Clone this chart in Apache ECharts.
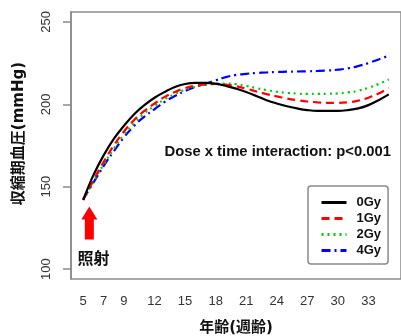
<!DOCTYPE html>
<html>
<head>
<meta charset="utf-8">
<script src="https://cdn.jsdelivr.net/npm/echarts@6/dist/echarts.min.js"></script>
<style>
  html, body { margin: 0; padding: 0; background: #fff; }
  #chart { width: 401px; height: 336px; }
</style>
</head>
<body>
<div id="chart"></div>
<script>
// 週齢
var weeks = [5,6,7,8,9,10,11,12,13,14,15,16,17,18,19,20,21,22,23,24,25,26,27,28,29,30,31,32,33,34,35];
// 収縮期血圧 (mmHg)
var gy0 = [142,157,169,179,187,194,199.5,204,207.5,210.5,212.3,213,213,212.5,211.2,209.5,207.5,205,202.5,200.5,198.8,197.5,196.5,196,196,196,196.5,197.5,199.5,202.5,206];
var gy1 = [142,154,165,175,183.5,190.5,196,200.5,204.5,207.5,209.8,211.3,212,212.3,212,211,209.5,207.8,206.2,204.8,203.5,202.5,201.7,201.2,200.9,200.8,201.2,202.2,204,206.5,210];
var gy2 = [142,153,163.5,173,181.5,188.5,194.5,199,203,206.3,208.8,210.6,211.8,212.5,212.6,212.2,211.2,209.8,208.6,207.6,206.9,206.5,206.3,206.3,206.4,206.6,207.2,208.2,210,212.3,215];
var gy4 = [142.5,152.5,162.5,171.5,180,187,192.5,197,201.5,205,208,210.5,212.5,214.5,216.5,217.8,218.5,219,219.3,219.6,219.8,219.9,220,220.2,220.5,221,221.8,223.2,225,227.2,229.5];

var xTicks = [5,7,9,12,15,18,21,24,27,30,33];
var yTicks = [100,150,200,250];

var seriesNames = ['0Gy','1Gy','2Gy','4Gy'];
var seriesColors = ['#000000','#ff0000','#00cc00','#0000ff'];
var seriesDash = ['solid',[8,5],[2,4],[9,4,2,4]];

var latin = '"Liberation Sans", Arial, "Noto Sans CJK JP", sans-serif';
var cjk = '"DejaVu Sans", "Noto Sans CJK JP", sans-serif';

function pairs(vals) {
  var out = [];
  for (var i = 0; i < weeks.length; i++) out.push([weeks[i], vals[i]]);
  return out;
}

var allVals = [gy0, gy1, gy2, gy4];
var series = [];
for (var i = 0; i < seriesNames.length; i++) {
  series.push({
    name: seriesNames[i],
    type: 'line',
    data: pairs(allVals[i]),
    smooth: 0.4,
    symbol: 'none',
    z: 10 - i,
    itemStyle: { color: seriesColors[i] },
    lineStyle: { color: seriesColors[i], width: 2.2, type: seriesDash[i] }
  });
}

// 注記: 矢印・照射・交互作用
series[0].markPoint = {
  silent: true,
  animation: false,
  data: [
    {
      coord: [5.6, 128],
      symbol: 'path://M8,0 L16,13 L12.5,13 L12.5,33 L3.5,33 L3.5,13 L0,13 Z',
      symbolSize: [16, 33],
      itemStyle: { color: '#ff0000' },
      label: { show: false }
    },
    {
      coord: [6.0, 105.5],
      symbol: 'circle',
      symbolSize: 0,
      label: { show: true, position: 'inside', formatter: '照射', color: '#111', fontSize: 16, fontWeight: 'bold', fontFamily: cjk }
    },
    {
      coord: [24.1, 171],
      symbol: 'circle',
      symbolSize: 0,
      label: { show: true, position: 'inside', formatter: 'Dose x time interaction: p<0.001', color: '#111', fontSize: 14.8, fontWeight: 'bold', fontFamily: latin }
    }
  ]
};

var myChart = echarts.init(document.getElementById('chart'));
var option = {
  animation: false,
  backgroundColor: '#fff',
  grid: {
    left: 71, right: 0, top: 12, bottom: 57,
    outerBoundsMode: 'none',
    show: true,
    borderColor: '#8a8a8a',
    borderWidth: 1.5
  },
  legend: {
    data: seriesNames,
    orient: 'vertical',
    left: 308,
    top: 186,
    padding: [10, 7, 7, 12],
    itemGap: 3,
    itemWidth: 25,
    itemHeight: 12,
    borderColor: '#8a8a8a',
    borderWidth: 1.5,
    borderRadius: 3,
    itemStyle: { opacity: 0 },
    lineStyle: { width: 3 },
    textStyle: { color: '#111', fontSize: 13, fontWeight: 'bold', fontFamily: latin, padding: [0, 0, 0, 5] }
  },
  xAxis: {
    type: 'value',
    min: 3.8,
    max: 36.2,
    name: '年齢(週齢)',
    nameLocation: 'middle',
    nameGap: 42,
    nameTextStyle: { color: '#111', fontSize: 15, fontWeight: 'bold', fontFamily: cjk },
    splitLine: { show: false },
    axisLine: { show: false },
    axisTick: { show: false },
    axisLabel: {
      customValues: xTicks,
      margin: 16,
      color: '#333',
      fontSize: 13,
      fontFamily: latin
    }
  },
  yAxis: {
    type: 'value',
    min: 94,
    max: 256,
    name: '収縮期血圧(mmHg)',
    nameLocation: 'middle',
    nameGap: 44,
    nameTextStyle: { color: '#111', fontSize: 15, fontWeight: 'bold', fontFamily: cjk, padding: [0, 0, 0, 24] },
    splitLine: { show: false },
    axisLine: { show: true, lineStyle: { color: '#8a8a8a', width: 1.5 } },
    axisTick: { show: true, customValues: yTicks, length: 8, lineStyle: { color: '#8a8a8a', width: 1.5 } },
    axisLabel: {
      customValues: yTicks,
      rotate: 90,
      margin: 18,
      color: '#333',
      fontSize: 13,
      fontFamily: latin
    }
  },
  series: series
};
myChart.setOption(option);
</script>
</body>
</html>
